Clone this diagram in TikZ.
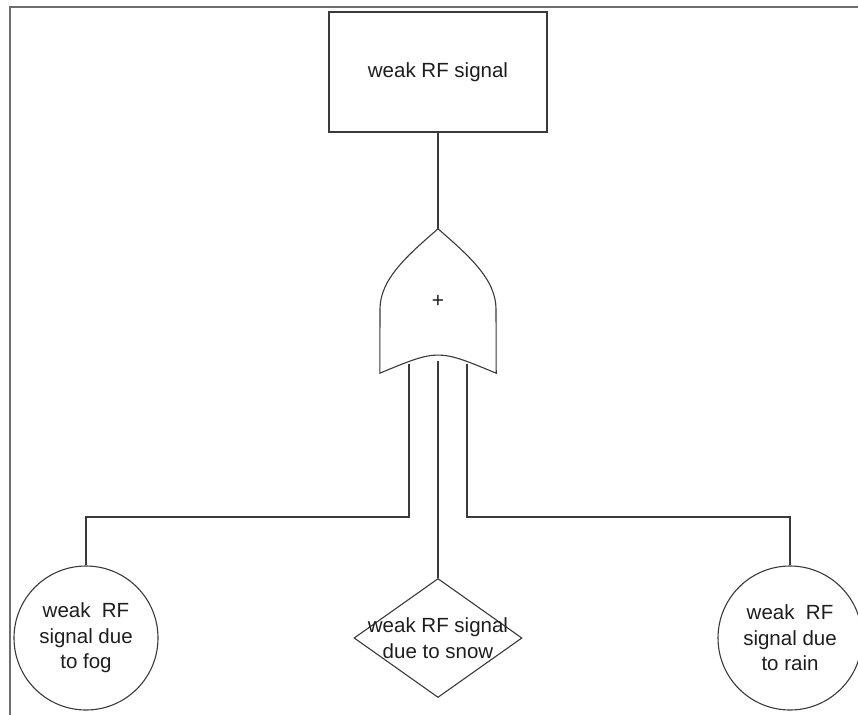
\documentclass[tikz,border=0pt]{standalone}
\usepackage{fontspec}
\setmainfont{Liberation Sans}
\usetikzlibrary{shapes.geometric}
\definecolor{ink}{HTML}{3A3A3A}
\definecolor{textink}{HTML}{1E1E1E}
\definecolor{framegray}{HTML}{6E6E6E}
\begin{document}
\begin{tikzpicture}[
  x=1pt, y=-1pt,
  line/.style={draw=ink, line width=1.1pt},
  frameline/.style={draw=framegray, line width=2.2pt},
  label/.style={text=textink, font=\fontsize{20.5}{25.5}\selectfont, align=center, inner sep=0pt},
  eventbox/.style={line, rectangle, minimum width=218pt, minimum height=120pt, inner sep=0pt},
  basic/.style={line, circle, minimum size=144pt, inner sep=0pt},
  undeveloped/.style={line, diamond, minimum width=168pt, minimum height=119pt, inner sep=0pt},
  gatebox/.style={rectangle, minimum width=116pt, minimum height=144pt, inner sep=0pt,
                  text=textink, font=\fontsize{21}{21}\selectfont}
]
\useasboundingbox (0,0) rectangle (858,714);
\fill[white] (0,0) rectangle (858,714);

% page frame (top and left edges)
\draw[frameline] (10,720) -- (10,7) -- (870,7);

% top event
\node[eventbox, label] (top) at (438,72) {weak RF signal};

% OR gate: pointed arch on top, concave base
\node[gatebox] (gate) at (438,301) {+};
\draw[line]
  (gate.north)
    .. controls ([shift={(-30,-46)}]gate.center) and ([shift={(-58,-22)}]gate.center) ..
  ([shift={(-58,8)}]gate.center)
  -- (gate.south west)
    .. controls ([shift={(0,48)}]gate.center) ..
  (gate.south east)
  -- ([shift={(58,8)}]gate.center)
    .. controls ([shift={(58,-22)}]gate.center) and ([shift={(30,-46)}]gate.center) ..
  (gate.north);
\coordinate (inA) at ([shift={(-29,63)}]gate.center);
\coordinate (inB) at ([shift={(0,60)}]gate.center);
\coordinate (inC) at ([shift={(29,63)}]gate.center);

% basic and undeveloped events
\node[basic, label] (fog) at (86,638) {weak~~RF\\signal due\\to fog};
\node[undeveloped] (snow) at (438,638) {};
\node[label] (snowtext) at (snow.center) {weak RF signal\\due to snow};
\node[basic, label] (rain) at (790,638) {weak~~RF\\signal due\\to rain};

% connectors
\coordinate (bus) at (438,517);
\draw[line] (top.south) -- (gate.north);
\draw[line] (inA) -- (inA |- bus) -| (fog.north);
\draw[line] (inB) -- (snow.north);
\draw[line] (inC) -- (inC |- bus) -| (rain.north);
\end{tikzpicture}
\end{document}
